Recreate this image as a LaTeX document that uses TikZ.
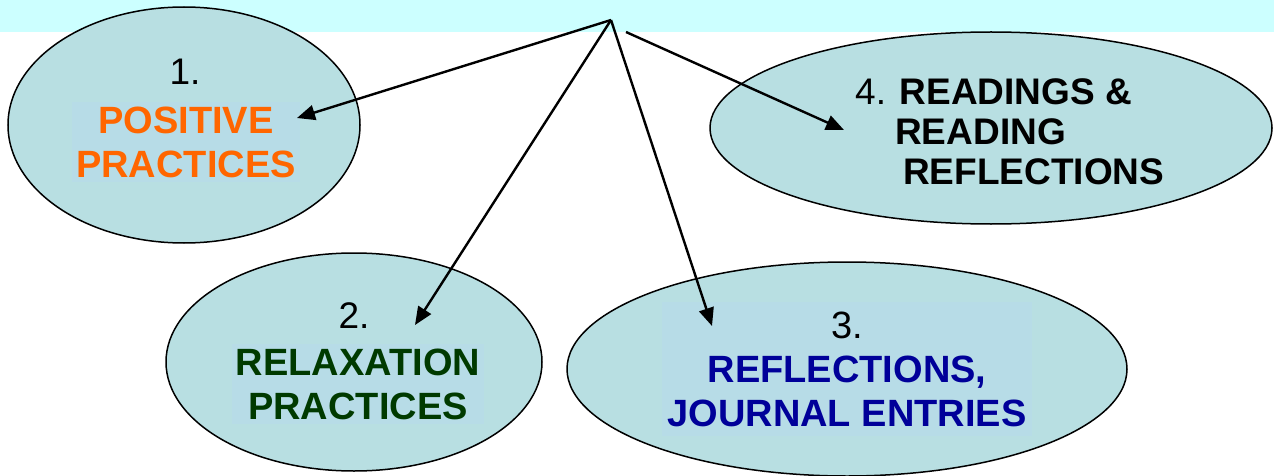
\documentclass[tikz,border=0pt]{standalone}
\usepackage{fontspec}
\setmainfont{Liberation Sans}
\usetikzlibrary{shapes.geometric, arrows.meta}
\definecolor{bandcyan}{HTML}{CCFFFF}
\definecolor{bubblefill}{HTML}{B8DFE2}
\definecolor{labelfill}{HTML}{B7DCE7}
\definecolor{orangetxt}{HTML}{FF6600}
\definecolor{greentxt}{HTML}{003A00}
\definecolor{bluetxt}{HTML}{000099}
\tikzstyle{bubble} = [ellipse, draw=black, line width=1.5pt, fill=bubblefill, inner sep=0pt]
\tikzstyle{label} = [align=center, inner xsep=4pt, inner ysep=5pt, font=\fontsize{38}{44}\selectfont\bfseries]
\tikzstyle{num} = [inner sep=0pt, font=\fontsize{37}{44}\selectfont]
\tikzstyle{arrow} = [line width=2.4pt, -{Triangle[length=18pt, width=15pt]}]

\begin{document}
\begin{tikzpicture}[x=1pt, y=-1pt]
	\useasboundingbox (0,0) rectangle (1274,476);
	\fill [bandcyan] (0,0) rectangle (1274,32);
	
	\node (e1) [bubble, minimum width=352pt, minimum height=236pt] at (184,125) {};
	\node (e4) [bubble, minimum width=562pt, minimum height=192pt] at (991,128) {};
	\node (e2) [bubble, minimum width=376pt, minimum height=218pt] at (354,362) {};
	\node (e3) [bubble, minimum width=560pt, minimum height=214pt] at (847,369) {};
	
	\node (n1) [num] at (185,72) {1.};
	\node (t1) [label, fill=labelfill, text=orangetxt] at (186,142) {POSITIVE\\PRACTICES};
	\node (n2) [num] at (354,316) {2.};
	\node (t2) [label, fill=labelfill, text=greentxt] at (358,384) {RELAXATION\\PRACTICES};
	\node (t3) [label, fill=labelfill, text=bluetxt, inner xsep=6pt, inner ysep=10pt] at (847,369)
		{\mdseries\color{black}3.\\REFLECTIONS,\\JOURNAL ENTRIES};
	\node (t4) [num, anchor=west, align=left, font=\fontsize{37}{40}\selectfont] at (855,132)
		{4. \textbf{READINGS \&}\\\hspace*{40pt}\textbf{READING}\\\hspace*{48pt}\textbf{REFLECTIONS}};
	
	\coordinate (hub) at (611,20);
	\coordinate (hub4) at (626,32);
	\coordinate (a1) at (297,118);
	\coordinate (a2) at (415,325);
	\coordinate (a3) at (712,326);
	\coordinate (a4) at (844,130);
	
	\draw [arrow] (hub) -- (a1);
	\draw [arrow] (hub) -- (a2);
	\draw [arrow] (hub) -- (a3);
	\draw [arrow] (hub4) -- (a4);
\end{tikzpicture}
\end{document}
